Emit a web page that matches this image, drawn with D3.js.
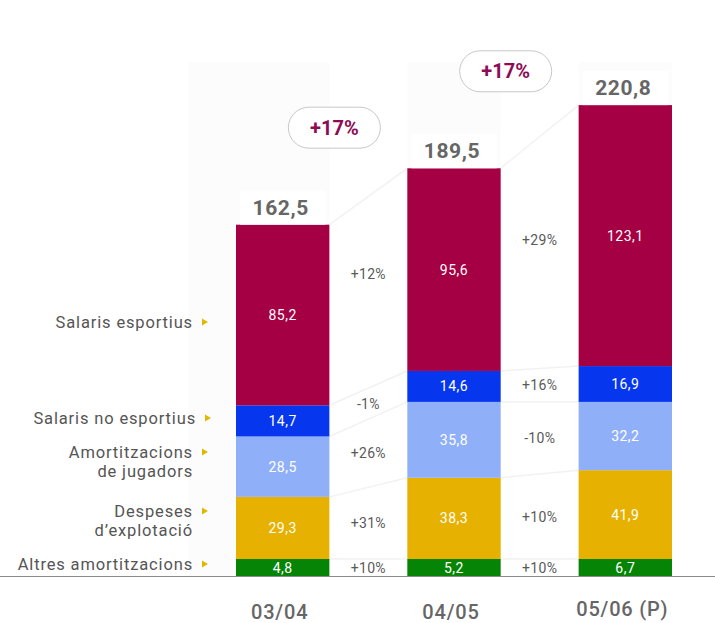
<!DOCTYPE html>
<html>
<head>
<meta charset="utf-8">
<script src="https://cdn.jsdelivr.net/npm/d3@7"></script>
<style>
  html, body { margin: 0; padding: 0; background: #fff; }
  svg { display: block; font-family: Roboto, "Noto Sans", sans-serif; }
</style>
</head>
<body>
<svg id="chart" width="715" height="623"></svg>
<script>
// Seasons (x categories)
const seasons = ["03/04", "04/05", "05/06 (P)"];
// Cost components, bottom to top of each stack
const components = ["Altres amortitzacions", "Despeses d’explotació", "Amortitzacions de jugadors", "Salaris no esportius", "Salaris esportius"];
// Values (M€) per component, one entry per season
const altresAmortitzacions = [4.8, 5.2, 6.7];
const despesesExplotacio   = [29.3, 38.3, 41.9];
const amortJugadors        = [28.5, 35.8, 32.2];
const salarisNoEsportius   = [14.7, 14.6, 16.9];
const salarisEsportius     = [85.2, 95.6, 123.1];
// Stack totals
const totals = [162.5, 189.5, 220.8];
// Year-on-year change of the total
const totalChange = ["+17%", "+17%"];
// Year-on-year change per component (bottom to top), for each pair of seasons
const changes0304to0405 = ["+10%", "+31%", "+26%", "-1%", "+12%"];
const changes0405to0506 = ["+10%", "+10%", "-10%", "+16%", "+29%"];
// Row labels on the left (lines per label)
const rowLabels = [["Altres amortitzacions"], ["Despeses", "d’explotació"], ["Amortitzacions", "de jugadors"], ["Salaris no esportius"], ["Salaris esportius"]];

const colors = ["#068406", "#e6b100", "#8fb0f8", "#0637ee", "#a50044"];
const series = [altresAmortitzacions, despesesExplotacio, amortJugadors, salarisNoEsportius, salarisEsportius];
const changes = [changes0304to0405, changes0405to0506];

const fmt = v => d3.format(".1f")(v).replace(".", ",");

const svg = d3.select("#chart");
const baseY = 576;
const minH = 17; // smallest drawn segment height so its label fits

const xb = d3.scaleBand().domain(seasons).range([236, 672]).paddingInner(0.455).paddingOuter(0);
const y = d3.scaleLinear().domain([0, 230]).range([baseY, baseY - 230 * 2.12]);

// Build stacked segments with a minimum visible height
const stacks = seasons.map((s, i) => {
  let top = baseY;
  return series.map((arr, k) => {
    const v = arr[i];
    const h = Math.max(baseY - y(v), minH);
    const seg = { season: s, k, v, y0: top, y1: top - h };
    top -= h;
    return seg;
  });
});

// very faint backdrop panel
svg.append("rect").attr("x", 188).attr("y", 62).attr("width", 484).attr("height", baseY - 62)
  .attr("fill", "#fcfcfc");

// white gaps between bars
seasons.forEach((s, i) => {
  if (i < seasons.length - 1) {
    const x0 = xb(s) + xb.bandwidth();
    const x1 = xb(seasons[i + 1]);
    svg.append("rect").attr("x", x0).attr("y", 62).attr("width", x1 - x0).attr("height", baseY - 62).attr("fill", "#fff");
  }
});

// faint connector lines between segment boundaries of consecutive bars
seasons.forEach((s, i) => {
  if (i === seasons.length - 1) return;
  const x0 = xb(s) + xb.bandwidth();
  const x1 = xb(seasons[i + 1]);
  stacks[i].forEach((seg, k) => {
    svg.append("line")
      .attr("x1", x0).attr("x2", x1)
      .attr("y1", seg.y1).attr("y2", stacks[i + 1][k].y1)
      .attr("stroke", "#f2f2f2").attr("stroke-width", 1.5);
  });
});

// bars
const g = svg.append("g");
stacks.forEach((st, i) => {
  g.selectAll(null).data(st).enter().append("rect")
    .attr("x", d => xb(d.season))
    .attr("width", xb.bandwidth())
    .attr("y", d => d.y1)
    .attr("height", d => d.y0 - d.y1)
    .attr("fill", d => colors[d.k]);
  g.selectAll(null).data(st).enter().append("text")
    .attr("x", d => xb(d.season) + xb.bandwidth() / 2)
    .attr("y", d => (d.y0 + d.y1) / 2)
    .attr("dy", "0.36em")
    .attr("text-anchor", "middle")
    .attr("fill", "#fff")
    .attr("font-size", 14)
    .attr("letter-spacing", 0.5)
    .text(d => fmt(d.v));
});

// totals above bars, on a white box
seasons.forEach((s, i) => {
  const top = stacks[i][stacks[i].length - 1].y1;
  const cx = xb(s) + xb.bandwidth() / 2;
  svg.append("rect").attr("x", xb(s) + 4).attr("y", top - 34).attr("width", xb.bandwidth() - 8).attr("height", 34).attr("fill", "#fff");
  svg.append("text").attr("x", cx - 2).attr("y", top - 10)
    .attr("text-anchor", "middle").attr("font-size", 21).attr("font-weight", 700)
    .attr("fill", "#666").attr("letter-spacing", 0.6).text(fmt(totals[i]));
});

// total change pills
totalChange.forEach((t, i) => {
  const top = stacks[i][stacks[i].length - 1].y1;
  const cx = xb(seasons[i]) + xb.bandwidth() + 5;
  const cy = top - 97;
  svg.append("rect").attr("x", cx - 46).attr("y", cy - 20.5).attr("width", 92).attr("height", 41)
    .attr("rx", 20.5).attr("fill", "#fff").attr("stroke", "#c8c8c8").attr("stroke-width", 1);
  svg.append("text").attr("x", cx).attr("y", cy).attr("dy", "0.36em")
    .attr("text-anchor", "middle").attr("font-size", 20).attr("font-weight", 700)
    .attr("fill", "#8e0c55").text(t);
});

// per-component changes in the gaps
changes.forEach((arr, i) => {
  const cx = (xb(seasons[i]) + xb.bandwidth() + xb(seasons[i + 1])) / 2;
  arr.forEach((t, k) => {
    const a = stacks[i][k], b = stacks[i + 1][k];
    const ca = (a.y0 + a.y1) / 2, cb = (b.y0 + b.y1) / 2;
    // the tallest segment's label sits nearer the taller bar
    const cy = k === series.length - 1 ? cb + 4 : (ca + cb) / 2;
    svg.append("text").attr("x", cx).attr("y", cy).attr("dy", "0.36em")
      .attr("text-anchor", "middle").attr("font-size", 14).attr("fill", "#5a5a5a")
      .attr("letter-spacing", 0.3).text(t);
  });
});

// row labels with markers, aligned with the first stack
const labelY = [564, 511, 452, 418, 322];
rowLabels.forEach((lines, k) => {
  const cy = labelY[k];
  const tx = k === 3 ? 196 : 193;
  const t = svg.append("text").attr("text-anchor", "end").attr("font-size", 16.5)
    .attr("fill", "#555").attr("letter-spacing", 0.85);
  lines.forEach((ln, j) => {
    t.append("tspan").attr("x", tx).attr("y", cy + j * 19.5).attr("dy", "0.36em").text(ln);
  });
  const mx = tx + 9;
  svg.append("path").attr("d", `M${mx},${cy - 3.5}L${mx + 6},${cy}L${mx},${cy + 3.5}Z`).attr("fill", "#e0b800");
});

// baseline
svg.append("line").attr("x1", 0).attr("x2", 715).attr("y1", baseY + 0.5).attr("y2", baseY + 0.5)
  .attr("stroke", "#8a8a8a").attr("stroke-width", 1.2);

// season labels
svg.append("g").selectAll("text").data(seasons).enter().append("text")
  .attr("x", d => xb(d) + xb.bandwidth() / 2 - 3)
  .attr("y", (d, i) => i === 2 ? 609 : 612)
  .attr("dy", "0.36em")
  .attr("text-anchor", "middle").attr("font-size", 20).attr("font-weight", 500)
  .attr("fill", "#666").attr("letter-spacing", 0.8)
  .text(d => d);
</script>
</body>
</html>
